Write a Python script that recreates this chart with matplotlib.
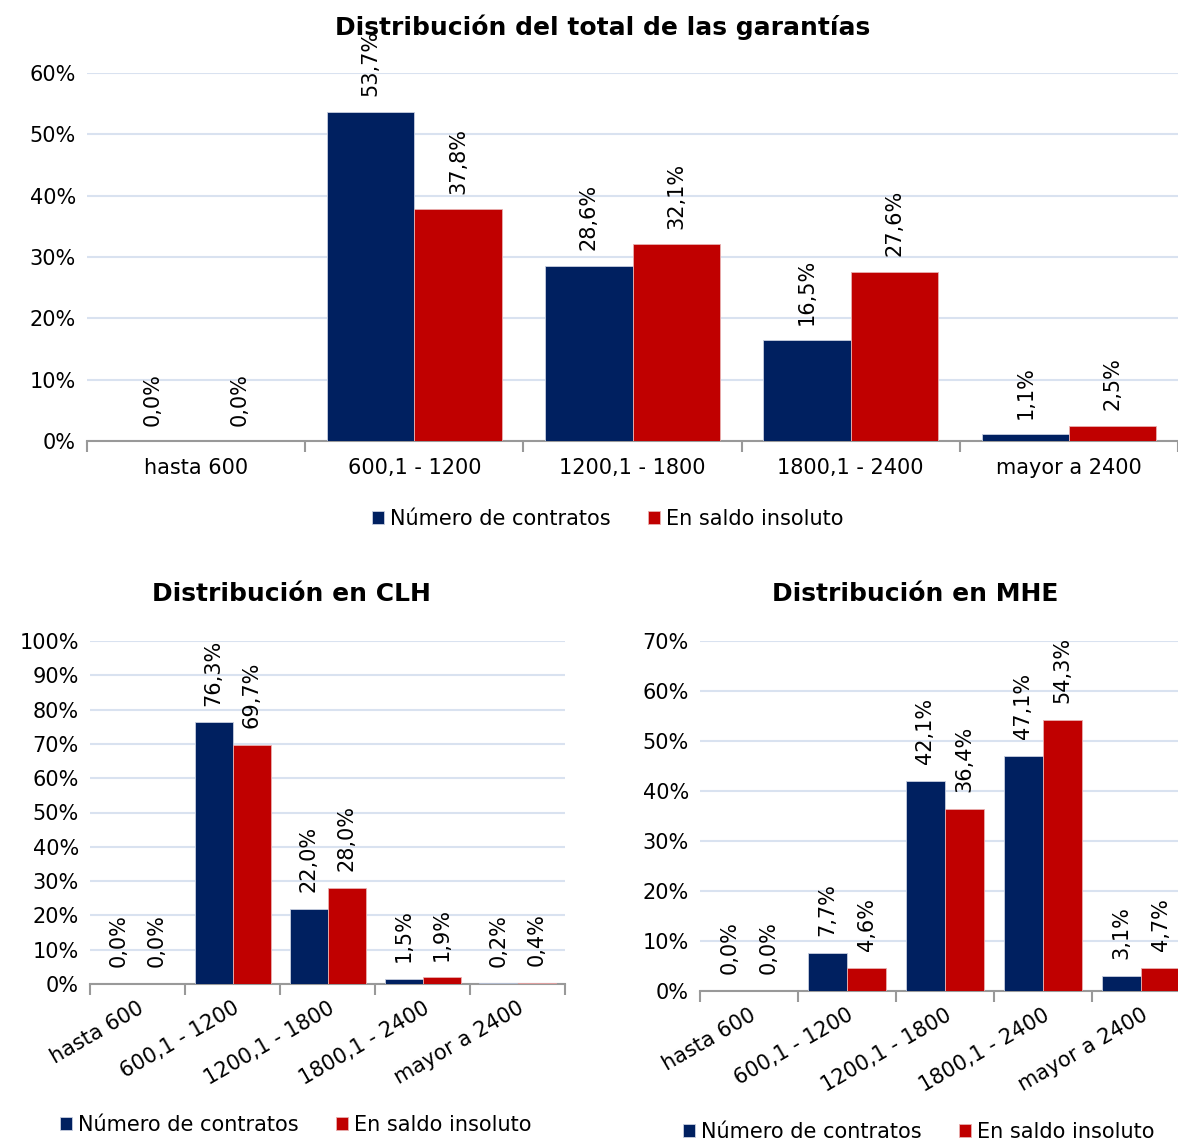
import matplotlib.pyplot as plt
import numpy as np

# categories and values (percent)
cats = ["hasta 600", "600,1 - 1200", "1200,1 - 1800", "1800,1 - 2400", "mayor a 2400"]
total_contratos = [0.0, 53.7, 28.6, 16.5, 1.1]
total_saldo = [0.0, 37.8, 32.1, 27.6, 2.5]
clh_contratos = [0.0, 76.3, 22.0, 1.5, 0.2]
clh_saldo = [0.0, 69.7, 28.0, 1.9, 0.4]
mhe_contratos = [0.0, 7.7, 42.1, 47.1, 3.1]
mhe_saldo = [0.0, 4.6, 36.4, 54.3, 4.7]

navy = "#002060"
red = "#C00000"
grid_c = "#d9e2f0"
plt.rcParams["font.family"] = ["DejaVu Sans"]

fig = plt.figure(figsize=(11.78, 11.42), dpi=100)


def draw(ax, a, b, ymax, rot, fs_lab, off):
    x = np.arange(len(cats))
    w = 0.4
    bars_a = ax.bar(x - w / 2, a, w, color=navy, edgecolor="#c8cfe0", linewidth=0.6, zorder=3)
    bars_b = ax.bar(x + w / 2, b, w, color=red, edgecolor="#e8b0b0", linewidth=0.6, zorder=3)
    for bars, vals in ((bars_a, a), (bars_b, b)):
        for r, v in zip(bars, vals):
            ax.annotate(f"{v:.1f}%".replace(".", ","),
                        (r.get_x() + r.get_width() / 2, v),
                        xytext=(0, off), textcoords="offset points",
                        rotation=90, ha="center", va="bottom",
                        fontsize=fs_lab, annotation_clip=False)
    ax.set_xlim(-0.5, len(cats) - 0.5)
    ax.set_ylim(0, ymax)
    ax.set_yticks(np.arange(0, ymax + 1, 10))
    ax.set_yticklabels([f"{int(t)}%" for t in np.arange(0, ymax + 1, 10)], fontsize=15)
    ax.yaxis.grid(True, color=grid_c, linewidth=1.5, zorder=0)
    ax.set_axisbelow(True)
    for s in ("left", "right", "top"):
        ax.spines[s].set_visible(False)
    ax.spines["bottom"].set_color("#999999")
    ax.spines["bottom"].set_linewidth(1.5)
    ax.tick_params(axis="y", length=0, pad=8)
    # tick marks at category boundaries, labels at centres
    ax.set_xticks(np.arange(-0.5, len(cats)), minor=False)
    ax.set_xticklabels([])
    ax.set_xticks(x, minor=True)
    ax.tick_params(axis="x", which="major", length=8, width=1.5, color="#999999", direction="out")
    ax.tick_params(axis="x", which="minor", length=0, pad=10)
    if rot:
        ax.set_xticklabels(cats, minor=True, fontsize=15, rotation=rot, ha="right",
                           rotation_mode="anchor")
    else:
        ax.set_xticklabels(cats, minor=True, fontsize=15)
    return bars_a, bars_b


ax1 = fig.add_axes([87 / 1178, 1 - 441 / 1142, 1091 / 1178, 368 / 1142])
h = draw(ax1, total_contratos, total_saldo, 60, 0, 15, 11)
ax1.get_xaxis().set_tick_params(which="minor", pad=12)

ax2 = fig.add_axes([90 / 1178, 1 - 984 / 1142, 475 / 1178, 343 / 1142])
draw(ax2, clh_contratos, clh_saldo, 100, 30, 15, 12)

ax3 = fig.add_axes([700 / 1178, 1 - 991 / 1142, 490 / 1178, 350 / 1142])
draw(ax3, mhe_contratos, mhe_saldo, 70, 30, 15, 12)

labels = ["Número de contratos", "En saldo insoluto"]
leg_kw = dict(ncol=2, frameon=False, fontsize=15, handlelength=0.55, handleheight=0.55,
              handletextpad=0.3, columnspacing=1.8, loc="center")
fig.legend(h, labels, bbox_to_anchor=(608 / 1178, 1 - 519 / 1142), **leg_kw)
fig.legend(h, labels, bbox_to_anchor=(296 / 1178, 1 - 1125 / 1142), **leg_kw)
fig.legend(h, labels, bbox_to_anchor=(919 / 1178, 1 - 1132 / 1142), **leg_kw)

fig.text(603 / 1178, 1 - 27 / 1142, "Distribución del total de las garantías",
         ha="center", va="center", fontsize=18, fontweight="bold")
fig.text(291 / 1178, 1 - 594 / 1142, "Distribución en CLH",
         ha="center", va="center", fontsize=18, fontweight="bold")
fig.text(915 / 1178, 1 - 594 / 1142, "Distribución en MHE",
         ha="center", va="center", fontsize=18, fontweight="bold")

fig.savefig("out.png", dpi=100)
